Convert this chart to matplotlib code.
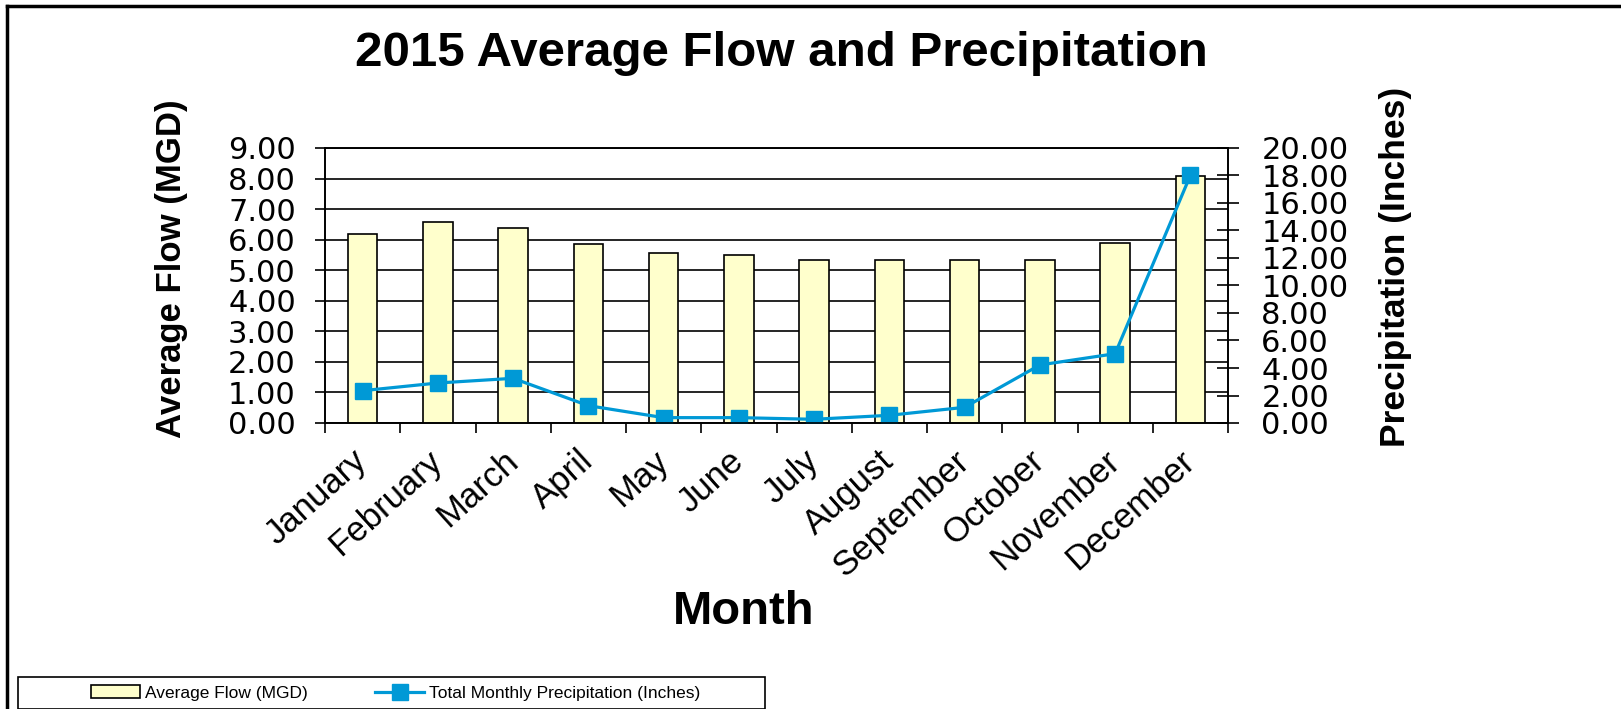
import matplotlib
matplotlib.use('Agg')
import matplotlib.pyplot as plt
import numpy as np
from matplotlib.lines import Line2D
from matplotlib.patches import Rectangle

months = ['January', 'February', 'March', 'April', 'May', 'June', 'July',
          'August', 'September', 'October', 'November', 'December']
avg_flow = [6.20, 6.59, 6.37, 5.86, 5.55, 5.51, 5.33, 5.33, 5.33, 5.33, 5.89, 8.09]
precip = [2.35, 2.91, 3.25, 1.26, 0.39, 0.39, 0.27, 0.56, 1.14, 4.22, 5.04, 18.01]
flow_ticks = [0, 1, 2, 3, 4, 5, 6, 7, 8, 9]
precip_ticks = [0, 2, 4, 6, 8, 10, 12, 14, 16, 18, 20]

plt.rcParams['font.family'] = ['Liberation Sans', 'DejaVu Sans']

W, H = 1621, 709
fig = plt.figure(figsize=(W / 100, H / 100), dpi=100)

# plot area in pixels: x 325..1228, y 148..423
ax = fig.add_axes([325 / W, 1 - 423 / H, (1228 - 325) / W, (423 - 148) / H])
x = np.arange(len(months))
bars = ax.bar(x, avg_flow, width=0.39, color='#FFFFCC', edgecolor='black', linewidth=1.2,
              zorder=3, label='Average Flow (MGD)')
ax.set_xlim(-0.5, len(months) - 0.5)
ax.set_ylim(0, 9)
ax.set_yticks(flow_ticks)
# the tick numbers in the original are wide, DejaVu gets closer to that shape
ax.set_yticklabels(['%.2f' % v for v in flow_ticks], family='DejaVu Sans')
ax.yaxis.grid(True, color='black', linewidth=1.2)
ax.set_axisbelow(True)
ax.tick_params(axis='y', length=7, width=1.2, labelsize=22, pad=14)

ax.set_xticks(x)
ax.set_xticklabels(months, rotation=42, ha='right', va='center', rotation_mode='anchor', fontsize=25)
ax.set_xticks(np.arange(-0.5, len(months), 1), minor=True)
ax.tick_params(axis='x', which='major', length=0, pad=24)
ax.tick_params(axis='x', which='minor', length=7, width=1.2, direction='out')
for s in ax.spines.values():
    s.set_linewidth(1.2)

ax2 = ax.twinx()
line, = ax2.plot(x, precip, color='#0099D6', linewidth=2.3, marker='s', markersize=11,
                 label='Total Monthly Precipitation (Inches)')
ax2.set_ylim(0, 20)
ax2.set_yticks(precip_ticks)
ax2.set_yticklabels(['%.2f' % v for v in precip_ticks], family='DejaVu Sans')
ax2.tick_params(axis='y', direction='inout', length=16, width=1.2, labelsize=22, pad=16)
for s in ax2.spines.values():
    s.set_linewidth(1.2)

fig.text(781 / W, 1 - 54 / H, '2015 Average Flow and Precipitation', fontsize=35.5,
         fontweight='bold', ha='center', va='center')
fig.text(171 / W, 1 - 269 / H, 'Average Flow (MGD)', fontsize=25, fontweight='bold',
         rotation=90, ha='center', va='center')
fig.text(1396 / W, 1 - 267 / H, 'Precipitation (Inches)', fontsize=25.5, fontweight='bold',
         rotation=90, ha='center', va='center')
fig.text(744 / W, 1 - 612 / H, 'Month', fontsize=34, fontweight='bold', ha='center', va='center')

# legend box at the bottom
fig.patches.append(Rectangle((18 / W, 0), (765 - 18) / W, (709 - 677) / H, transform=fig.transFigure,
                             fill=False, edgecolor='black', linewidth=1.2))
fig.legend([bars, line], ['Average Flow (MGD)', 'Total Monthly Precipitation (Inches)'],
           loc='center left', frameon=False, ncol=2,
           bbox_to_anchor=(91 / W, 1 - 693 / H), fontsize=12.5, handlelength=2.8,
           handletextpad=0.3, columnspacing=3.9, borderpad=0, borderaxespad=0)

# outer frame (left and top edges)
fig.add_artist(Line2D([7 / W, 7 / W], [0, 1 - 6 / H], transform=fig.transFigure, color='black', linewidth=2.5))
fig.add_artist(Line2D([7 / W, 1], [1 - 6 / H, 1 - 6 / H], transform=fig.transFigure, color='black', linewidth=2.5))

fig.savefig('out.png', dpi=100)
